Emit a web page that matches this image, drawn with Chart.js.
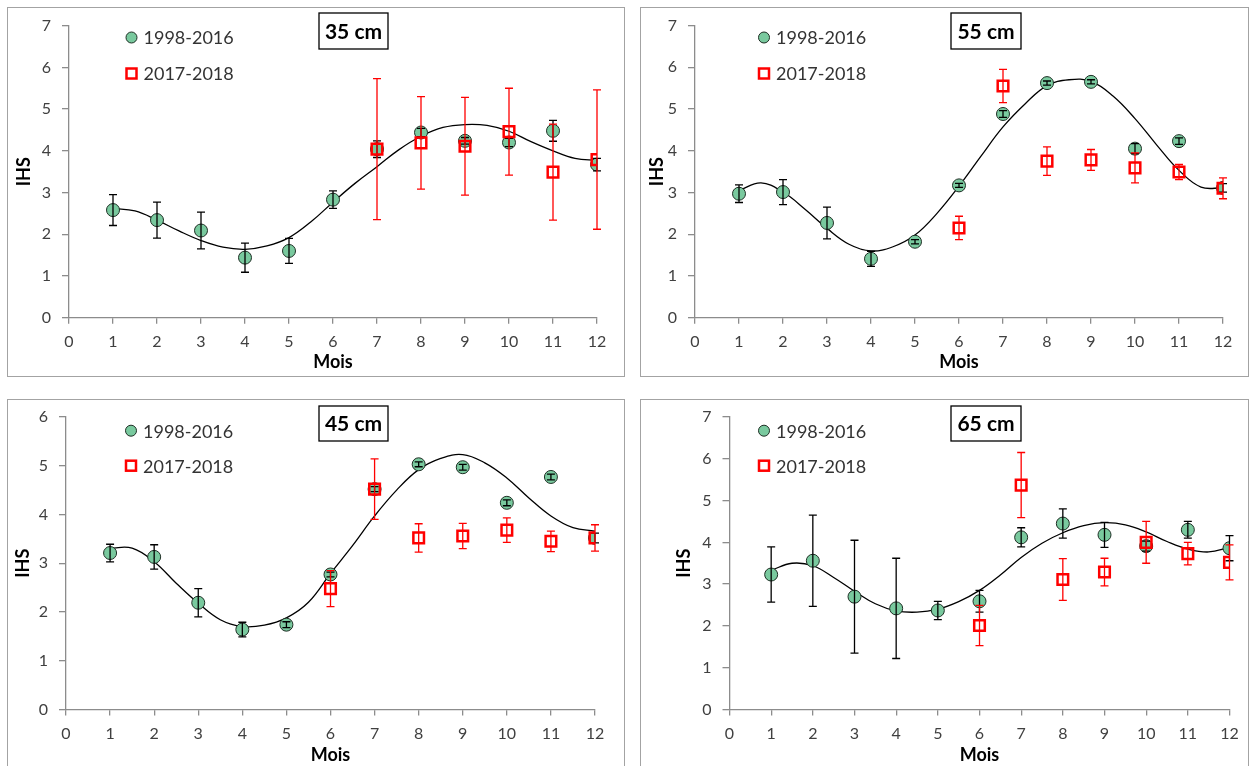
<!DOCTYPE html>
<html>
<head>
<meta charset="utf-8">
<script src="https://cdn.jsdelivr.net/npm/chart.js@4.4.1/dist/chart.umd.min.js"></script>
<style>
  html, body { margin: 0; padding: 0; background: #ffffff; }
  body { width: 1250px; height: 766px; position: relative; overflow: hidden; font-family: Lato, sans-serif; }
  .frame { position: absolute; border: 1px solid #a3a3a3; box-sizing: border-box; }
  .cell { position: absolute; }
  .cell canvas { display: block; }
</style>
</head>
<body>
<div class="frame" style="left:7px;top:7px;width:618px;height:370px"></div>
<div class="frame" style="left:640px;top:7px;width:609px;height:370px"></div>
<div class="frame" style="left:7px;top:399px;width:618px;height:400px"></div>
<div class="frame" style="left:640px;top:399px;width:609px;height:400px"></div>

<div class="cell" style="left:0;top:0"><canvas id="c35" width="625" height="385"></canvas></div>
<div class="cell" style="left:625px;top:0"><canvas id="c55" width="625" height="385"></canvas></div>
<div class="cell" style="left:0;top:390px"><canvas id="c45" width="625" height="376"></canvas></div>
<div class="cell" style="left:625px;top:390px"><canvas id="c65" width="625" height="376"></canvas></div>

<script>
// Months of the year
const months = [1, 2, 3, 4, 5, 6, 7, 8, 9, 10, 11, 12];
// Abscissae of the fitted seasonal curve
const fitMonths = [1, 1.5, 2, 2.5, 3, 3.5, 4, 4.5, 5, 5.5, 6, 6.5, 7, 7.5, 8, 8.5, 9, 9.5, 10, 10.5, 11, 11.5, 12];

const seriesLabels = ['1998-2016', '2017-2018'];

// 35 cm
const ihs35Mean      = [2.58, 2.34, 2.09, 1.44, 1.60, 2.83, 4.04, 4.44, 4.24, 4.20, 4.48, 3.67];
const ihs35MeanErr   = [0.37, 0.43, 0.44, 0.35, 0.30, 0.21, 0.20, 0.10, 0.08, 0.10, 0.25, 0.15];
const ihs35Recent    = [null, null, null, null, null, null, 4.04, 4.19, 4.11, 4.46, 3.49, 3.79];
const ihs35RecentErr = [null, null, null, null, null, null, 1.69, 1.11, 1.17, 1.04, 1.15, 1.67];
const ihs35Fit = [2.62, 2.56, 2.34, 2.08, 1.85, 1.69, 1.64, 1.72, 1.92, 2.30, 2.77, 3.22, 3.62, 4.03, 4.35, 4.56, 4.63, 4.61, 4.47, 4.22, 4.00, 3.82, 3.77];

// 55 cm
const ihs55Mean      = [2.97, 3.01, 2.27, 1.41, 1.82, 3.17, 4.88, 5.62, 5.65, 4.05, 4.23, 3.11];
const ihs55MeanErr   = [0.21, 0.30, 0.38, 0.18, 0.05, 0.05, 0.08, 0.05, 0.05, 0.12, 0.08, 0.10];
const ihs55Recent    = [null, null, null, null, null, 2.15, 5.55, 3.75, 3.78, 3.59, 3.49, 3.10];
const ihs55RecentErr = [null, null, null, null, null, 0.28, 0.40, 0.34, 0.25, 0.36, 0.18, 0.25];
const ihs55Fit = [3.05, 3.23, 3.01, 2.60, 2.14, 1.76, 1.60, 1.70, 1.98, 2.50, 3.15, 3.87, 4.57, 5.12, 5.56, 5.70, 5.66, 5.31, 4.77, 4.13, 3.53, 3.13, 3.11];

// 45 cm
const ihs45Mean      = [3.21, 3.13, 2.19, 1.64, 1.74, 2.77, 4.52, 5.03, 4.97, 4.24, 4.77, 3.52];
const ihs45MeanErr   = [0.18, 0.25, 0.29, 0.15, 0.06, 0.05, 0.05, 0.05, 0.06, 0.06, 0.06, 0.10];
const ihs45Recent    = [null, null, null, null, null, 2.48, 4.52, 3.52, 3.56, 3.68, 3.45, 3.52];
const ihs45RecentErr = [null, null, null, null, null, 0.37, 0.62, 0.29, 0.26, 0.25, 0.21, 0.27];
const ihs45Fit = [3.31, 3.31, 3.03, 2.59, 2.18, 1.84, 1.70, 1.73, 1.88, 2.20, 2.79, 3.36, 3.97, 4.50, 4.92, 5.15, 5.23, 5.06, 4.75, 4.34, 3.97, 3.73, 3.66];

// 65 cm
const ihs65Mean      = [3.23, 3.56, 2.70, 2.42, 2.37, 2.59, 4.12, 4.45, 4.18, 3.91, 4.30, 3.86];
const ihs65MeanErr   = [0.66, 1.09, 1.35, 1.20, 0.22, 0.26, 0.23, 0.35, 0.30, 0.12, 0.20, 0.30];
const ihs65Recent    = [null, null, null, null, null, 2.01, 5.37, 3.11, 3.29, 4.00, 3.73, 3.52];
const ihs65RecentErr = [null, null, null, null, null, 0.48, 0.78, 0.50, 0.33, 0.50, 0.27, 0.42];
const ihs65Fit = [3.33, 3.50, 3.44, 3.16, 2.83, 2.53, 2.36, 2.33, 2.40, 2.58, 2.85, 3.22, 3.64, 3.98, 4.23, 4.40, 4.47, 4.42, 4.25, 4.02, 3.84, 3.77, 3.88];

const GREEN = '#79c99e';
const RED = '#ff0000';
const AXIS_GREY = '#8c8c8c';
const FONT = 'Lato, sans-serif';

function points(xs, ys) {
  const out = [];
  xs.forEach((x, i) => { if (ys[i] !== null && ys[i] !== undefined) out.push({ x: x, y: ys[i] }); });
  return out;
}
function errs(ys, es) {
  return ys.map((y, i) => (y === null ? null : es[i])).filter((e, i) => ys[i] !== null);
}

// Vertical error bars with caps, drawn right after their own dataset
const errorBars = {
  id: 'errorBars',
  afterDatasetDraw(chart, args) {
    const ds = chart.data.datasets[args.index];
    if (!ds.errors) return;
    const xs = chart.scales.x, ys = chart.scales.y, ctx = chart.ctx;
    ctx.save();
    ctx.strokeStyle = ds.errorColor;
    ctx.lineWidth = 1.3;
    ds.data.forEach((p, i) => {
      const e = ds.errors[i];
      if (e === null || e === undefined) return;
      const x = xs.getPixelForValue(p.x);
      const yt = ys.getPixelForValue(p.y + e);
      const yb = ys.getPixelForValue(p.y - e);
      ctx.beginPath();
      ctx.moveTo(x, yt); ctx.lineTo(x, yb);
      ctx.moveTo(x - 4, yt); ctx.lineTo(x + 4, yt);
      ctx.moveTo(x - 4, yb); ctx.lineTo(x + 4, yb);
      ctx.stroke();
    });
    ctx.restore();
  }
};

// Depth label box and in-plot legend
const decorations = {
  id: 'decorations',
  afterDraw(chart) {
    const o = chart.options.plugins.decorations;
    const ctx = chart.ctx;
    ctx.save();
    // depth box
    const b = o.box;
    ctx.fillStyle = '#ffffff';
    ctx.fillRect(b.x1, b.y1, b.x2 - b.x1, b.y2 - b.y1);
    ctx.strokeStyle = '#000000';
    ctx.lineWidth = 1.3;
    ctx.strokeRect(b.x1, b.y1, b.x2 - b.x1, b.y2 - b.y1);
    ctx.fillStyle = '#000000';
    ctx.font = 'bold 21px ' + FONT;
    ctx.textAlign = 'center';
    ctx.textBaseline = 'middle';
    ctx.fillText(o.title, (b.x1 + b.x2) / 2, (b.y1 + b.y2) / 2 + 1);
    // legend
    const L = o.legend;
    ctx.beginPath();
    ctx.arc(L.x, L.y1, 5.5, 0, Math.PI * 2);
    ctx.fillStyle = GREEN; ctx.fill();
    ctx.lineWidth = 1; ctx.strokeStyle = '#1e2e24'; ctx.stroke();
    ctx.lineWidth = 2.5; ctx.strokeStyle = RED;
    ctx.strokeRect(L.x - 5, L.y2 - 5, 10, 10);
    ctx.fillStyle = '#333333';
    ctx.font = '18px ' + FONT;
    ctx.textAlign = 'left';
    ctx.fillText(seriesLabels[0], L.x + 12, L.y1 + 1);
    ctx.fillText(seriesLabels[1], L.x + 12, L.y2 + 1);
    ctx.restore();
  }
};

function makeChart(cfg) {
  const canvas = document.getElementById(cfg.canvas);
  const W = canvas.width, H = canvas.height;
  const a = cfg.area;
  const titleHalf = 18 * 1.2 / 2;
  new Chart(canvas, {
    type: 'scatter',
    data: {
      datasets: [
        {
          label: seriesLabels[1],
          data: points(months, cfg.recent),
          errors: errs(cfg.recent, cfg.recentErr),
          errorColor: RED,
          pointStyle: 'rect',
          pointRadius: 7.5,
          backgroundColor: 'rgba(0,0,0,0)',
          borderColor: RED,
          borderWidth: 2.5,
          order: 0
        },
        {
          label: seriesLabels[0],
          data: points(months, cfg.mean),
          errors: cfg.meanErr,
          errorColor: '#000000',
          pointStyle: 'circle',
          pointRadius: 6.5,
          backgroundColor: GREEN,
          borderColor: '#1e2e24',
          borderWidth: 1,
          order: 1
        },
        {
          label: 'fit',
          data: points(fitMonths, cfg.fit),
          showLine: true,
          tension: 0.4,
          pointRadius: 0,
          borderColor: '#000000',
          borderWidth: 1.3,
          order: 2
        }
      ]
    },
    options: {
      responsive: false,
      animation: false,
      events: [],
      layout: { padding: { left: 0, top: a.top, right: W - a.right, bottom: 0 } },
      plugins: {
        legend: { display: false },
        tooltip: { enabled: false },
        decorations: { title: cfg.title, box: cfg.box, legend: cfg.legend }
      },
      scales: {
        x: {
          type: 'linear', min: 0, max: 12,
          afterFit(s) { s.height = H - a.bottom; },
          ticks: { stepSize: 1, color: '#404040', font: { family: FONT, size: 16 }, padding: 9, maxRotation: 0 },
          grid: { drawOnChartArea: false, drawTicks: true, tickLength: 6, color: AXIS_GREY, lineWidth: 1.3 },
          border: { color: AXIS_GREY, width: 1.3 },
          title: { display: true, text: 'Mois', color: '#000000', font: { family: FONT, size: 18, weight: 'bold' },
                   padding: { top: 0, bottom: H - cfg.xTitleY - titleHalf } }
        },
        y: {
          type: 'linear', min: 0, max: cfg.yMax,
          afterFit(s) { s.width = a.left; },
          ticks: { stepSize: 1, color: '#404040', font: { family: FONT, size: 16 }, padding: 11 },
          grid: { drawOnChartArea: false, drawTicks: true, tickLength: 7, color: AXIS_GREY, lineWidth: 1.3 },
          border: { color: AXIS_GREY, width: 1.3 },
          title: { display: true, text: 'IHS', color: '#000000', font: { family: FONT, size: 18, weight: 'bold' },
                   padding: { top: cfg.yTitleX - titleHalf, bottom: 0 } }
        }
      }
    },
    plugins: [errorBars, decorations]
  });
}

const panels = [
  { canvas: 'c35', title: '35 cm', yMax: 7, mean: ihs35Mean, meanErr: ihs35MeanErr, recent: ihs35Recent, recentErr: ihs35RecentErr, fit: ihs35Fit,
    area: { left: 69, right: 597, top: 25.7, bottom: 317.7 }, yTitleX: 24, xTitleY: 361.7,
    legend: { x: 131.5, y1: 37.5, y2: 73.5 }, box: { x1: 319, x2: 388, y1: 13, y2: 49 } },
  { canvas: 'c55', title: '55 cm', yMax: 7, mean: ihs55Mean, meanErr: ihs55MeanErr, recent: ihs55Recent, recentErr: ihs55RecentErr, fit: ihs55Fit,
    area: { left: 70, right: 598, top: 25.5, bottom: 317.7 }, yTitleX: 32, xTitleY: 361.7,
    legend: { x: 139, y1: 37.5, y2: 73.5 }, box: { x1: 326, x2: 396, y1: 13, y2: 49 } },
  { canvas: 'c45', title: '45 cm', yMax: 6, mean: ihs45Mean, meanErr: ihs45MeanErr, recent: ihs45Recent, recentErr: ihs45RecentErr, fit: ihs45Fit,
    area: { left: 66, right: 595, top: 27, bottom: 319.5 }, yTitleX: 23, xTitleY: 365,
    legend: { x: 131, y1: 40.7, y2: 75.7 }, box: { x1: 319, x2: 388, y1: 16, y2: 51 } },
  { canvas: 'c65', title: '65 cm', yMax: 7, mean: ihs65Mean, meanErr: ihs65MeanErr, recent: ihs65Recent, recentErr: ihs65RecentErr, fit: ihs65Fit,
    area: { left: 104.5, right: 604.5, top: 27, bottom: 319.5 }, yTitleX: 59, xTitleY: 365,
    legend: { x: 139, y1: 40.7, y2: 75.7 }, box: { x1: 326, x2: 396, y1: 16, y2: 51 } }
];

panels.forEach(makeChart);
</script>
</body>
</html>
